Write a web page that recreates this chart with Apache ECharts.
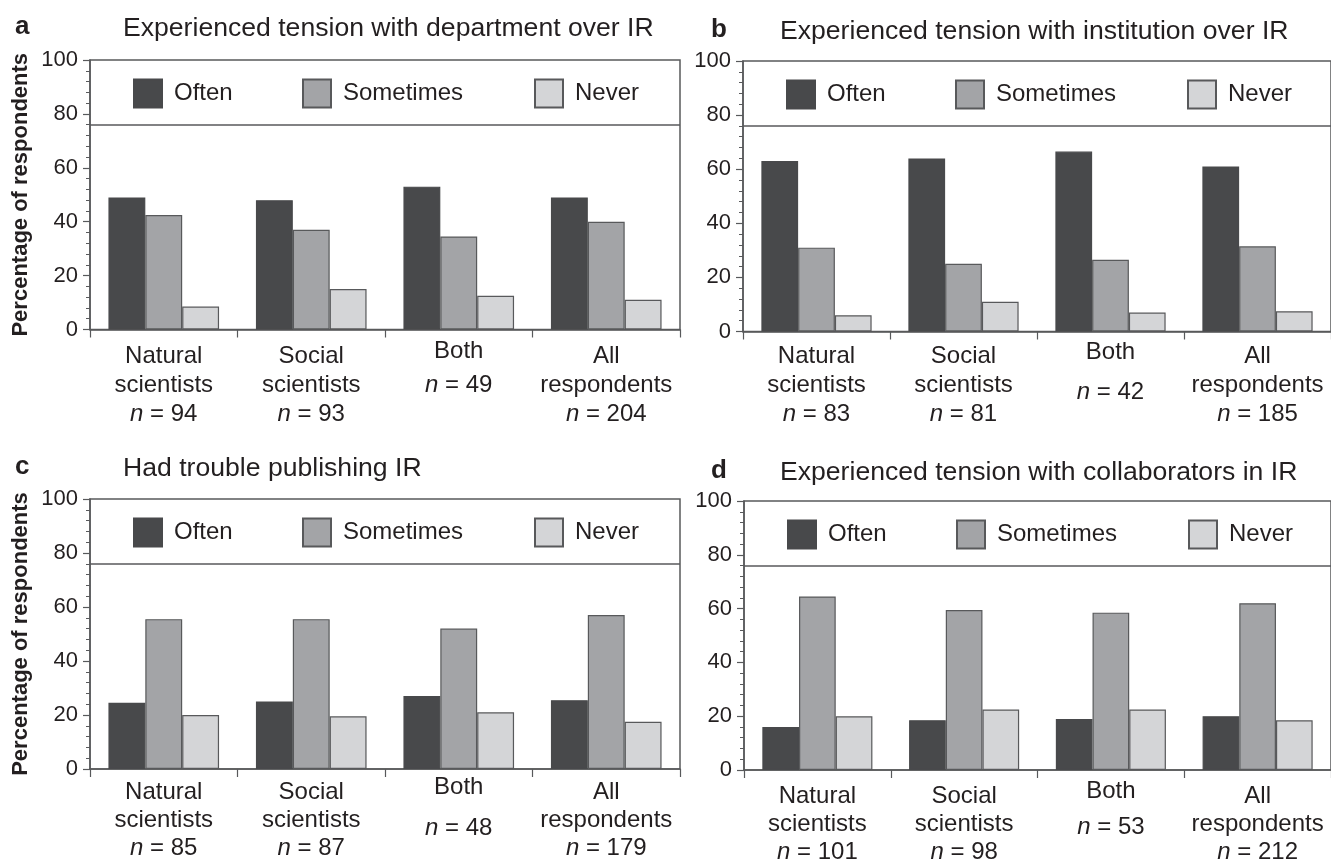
<!DOCTYPE html>
<html>
<head>
<meta charset="utf-8">
<title>Tensions over IR</title>
<script src="https://cdn.jsdelivr.net/npm/echarts@6/dist/echarts.min.js"></script>
<style>
  html, body { margin: 0; padding: 0; background: #ffffff; }
  #chart { width: 1331px; height: 864px; }
</style>
</head>
<body>
<div id="chart"></div>
<script>
// Response categories and group labels
const seriesNames = ['Often', 'Sometimes', 'Never'];
const groupLines = [['Natural', 'scientists'], ['Social', 'scientists'], ['Both'], ['All', 'respondents']];
const yTicks = [0, 20, 40, 60, 80, 100];

// Panel titles
const panelLetters = ['a', 'b', 'c', 'd'];
const panelTitles = [
  'Experienced tension with department over IR',
  'Experienced tension with institution over IR',
  'Had trouble publishing IR',
  'Experienced tension with collaborators in IR'
];

// Sample sizes per group
const nA = [94, 93, 49, 204];
const nB = [83, 81, 42, 185];
const nC = [85, 87, 48, 179];
const nD = [101, 98, 53, 212];

// Percentages of respondents: Often / Sometimes / Never
const oftenA = [49, 48, 53, 49];
const sometimesA = [42.5, 37, 34.5, 40];
const neverA = [8.5, 15, 12.5, 11];

const oftenB = [63, 64, 66.5, 61];
const sometimesB = [31, 25, 26.5, 31.5];
const neverB = [6, 11, 7, 7.5];

const oftenC = [24.5, 25, 27, 25.5];
const sometimesC = [55.5, 55.5, 52, 57];
const neverC = [20, 19.5, 21, 17.5];

const oftenD = [16, 18.5, 19, 20];
const sometimesD = [64.5, 59.5, 58.5, 62];
const neverD = [20, 22.5, 22.5, 18.5];

const legendBoxFloor = 76;

const panelData = [
  { n: nA, values: [oftenA, sometimesA, neverA] },
  { n: nB, values: [oftenB, sometimesB, neverB] },
  { n: nC, values: [oftenC, sometimesC, neverC] },
  { n: nD, values: [oftenD, sometimesD, neverD] }
];

// Layout of the four panels
const layout = [
  { left: 90,  top: 60,  width: 590, height: 269.5, margin: 12, lh: 29, bothLh: [19, 49], yName: true,  titleLeft: 123, letterLeft: 15,  titleTop: 15 },
  { left: 743, top: 61,  width: 596, height: 270.5, margin: 10, lh: 29, bothLh: [21, 59], yName: false, titleLeft: 780, letterLeft: 711, titleTop: 18 },
  { left: 90,  top: 499, width: 590, height: 270,   margin: 9,  lh: 28, bothLh: [18, 64], yName: true,  titleLeft: 123, letterLeft: 15,  titleTop: 455 },
  { left: 744, top: 501, width: 596, height: 270,   margin: 12, lh: 28, bothLh: [18, 54], yName: false, titleLeft: 780, letterLeft: 711, titleTop: 459 }
];

const ink = '#231f20';
const axisInk = '#58595b';
const fills = ['#48494b', '#a3a4a7', '#d4d5d7'];
const borders = ['#48494b', '#58595b', '#58595b'];
const font = "'Liberation Sans', Arial, Helvetica, sans-serif";

const titles = [];
const legends = [];
const grids = [];
const xAxes = [];
const yAxes = [];
const series = [];

layout.forEach((L, p) => {
  titles.push({
    text: panelLetters[p], left: L.letterLeft, top: L.titleTop - 1, padding: 0,
    textStyle: { fontFamily: font, fontSize: 26, fontWeight: 'bold', color: ink }
  });
  titles.push({
    text: panelTitles[p], left: L.titleLeft, top: L.titleTop, padding: 0,
    textStyle: { fontFamily: font, fontSize: 26.6, fontWeight: 'normal', color: ink }
  });

  const legendOffsets = [43, 212, 444];
  seriesNames.forEach((name, i) => {
    legends.push({
      data: [name], left: L.left + legendOffsets[i], top: L.top + 18.5,
      padding: 0, itemWidth: 28, itemHeight: 28, icon: 'rect',
      selectedMode: false,
      textStyle: { fontFamily: font, fontSize: 24, color: ink, padding: [0, 0, 0, 7] }
    });
  });

  grids.push({
    left: L.left, top: L.top, width: L.width, height: L.height,
    show: true, borderColor: axisInk, borderWidth: 1.5, backgroundColor: 'transparent'
  });

  const nList = panelData[p].n;
  const bothLh = L.bothLh;
  xAxes.push({
    type: 'category', gridIndex: p,
    data: groupLines.map(l => l.join(' ')),
    axisLine: { show: true, lineStyle: { color: axisInk, width: 1.5 } },
    axisTick: { show: true, alignWithLabel: false, length: 8, lineStyle: { color: axisInk, width: 1.2 } },
    axisLabel: {
      interval: 0, margin: L.margin, color: ink, fontFamily: font, fontSize: 24,
      formatter: (value, idx) => {
        const lines = groupLines[idx];
        const nTxt = ' = ' + nList[idx];
        if (lines.length === 1) {
          return '{b1|' + lines[0] + '}\n{bi|n}{b2|' + nTxt + '}';
        }
        return lines.map(s => '{t|' + s + '}').join('\n') + '\n{i|n}{t|' + nTxt + '}';
      },
      rich: {
        t: { fontFamily: font, fontSize: 24, color: ink, lineHeight: L.lh },
        i: { fontFamily: font, fontSize: 24, color: ink, lineHeight: L.lh, fontStyle: 'italic' },
        b1: { fontFamily: font, fontSize: 24, color: ink, lineHeight: bothLh[0] },
        b2: { fontFamily: font, fontSize: 24, color: ink, lineHeight: bothLh[1] },
        bi: { fontFamily: font, fontSize: 24, color: ink, lineHeight: bothLh[1], fontStyle: 'italic' }
      }
    },
    splitLine: { show: false }
  });

  yAxes.push({
    type: 'value', gridIndex: p, min: yTicks[0], max: yTicks[yTicks.length - 1], interval: 20,
    name: L.yName ? 'Percentage of respondents' : '',
    nameLocation: 'middle', nameGap: 58,
    nameTextStyle: { fontFamily: font, fontSize: 22, fontWeight: 'bold', color: ink },
    axisLine: { show: true, lineStyle: { color: axisInk, width: 1.5 } },
    axisTick: { show: true, length: 7, lineStyle: { color: axisInk, width: 1.2 } },
    minorTick: { show: true, splitNumber: 5, length: 4, lineStyle: { color: axisInk, width: 1 } },
    axisLabel: { margin: 12, color: ink, fontFamily: font, fontSize: 22 },
    splitLine: { show: false }
  });

  seriesNames.forEach((name, i) => {
    const s = {
      type: 'bar', name: name, xAxisIndex: p, yAxisIndex: p,
      data: panelData[p].values[i],
      barGap: '0%', barCategoryGap: '25%',
      itemStyle: { color: fills[i], borderColor: borders[i], borderWidth: 1.2 },
      emphasis: { disabled: true },
      animation: false
    };
    if (i === 0) {
      // lower edge of the legend box
      s.markLine = {
        silent: true, symbol: ['none', 'none'], animation: false,
        label: { show: false },
        lineStyle: { color: axisInk, width: 1.5, type: 'solid' },
        data: [{ yAxis: legendBoxFloor }]
      };
    }
    series.push(s);
  });
});

const chart = echarts.init(document.getElementById('chart'), null, { renderer: 'canvas' });
chart.setOption({
  backgroundColor: '#ffffff',
  animation: false,
  title: titles,
  legend: legends,
  grid: grids,
  xAxis: xAxes,
  yAxis: yAxes,
  series: series
});
</script>
</body>
</html>
